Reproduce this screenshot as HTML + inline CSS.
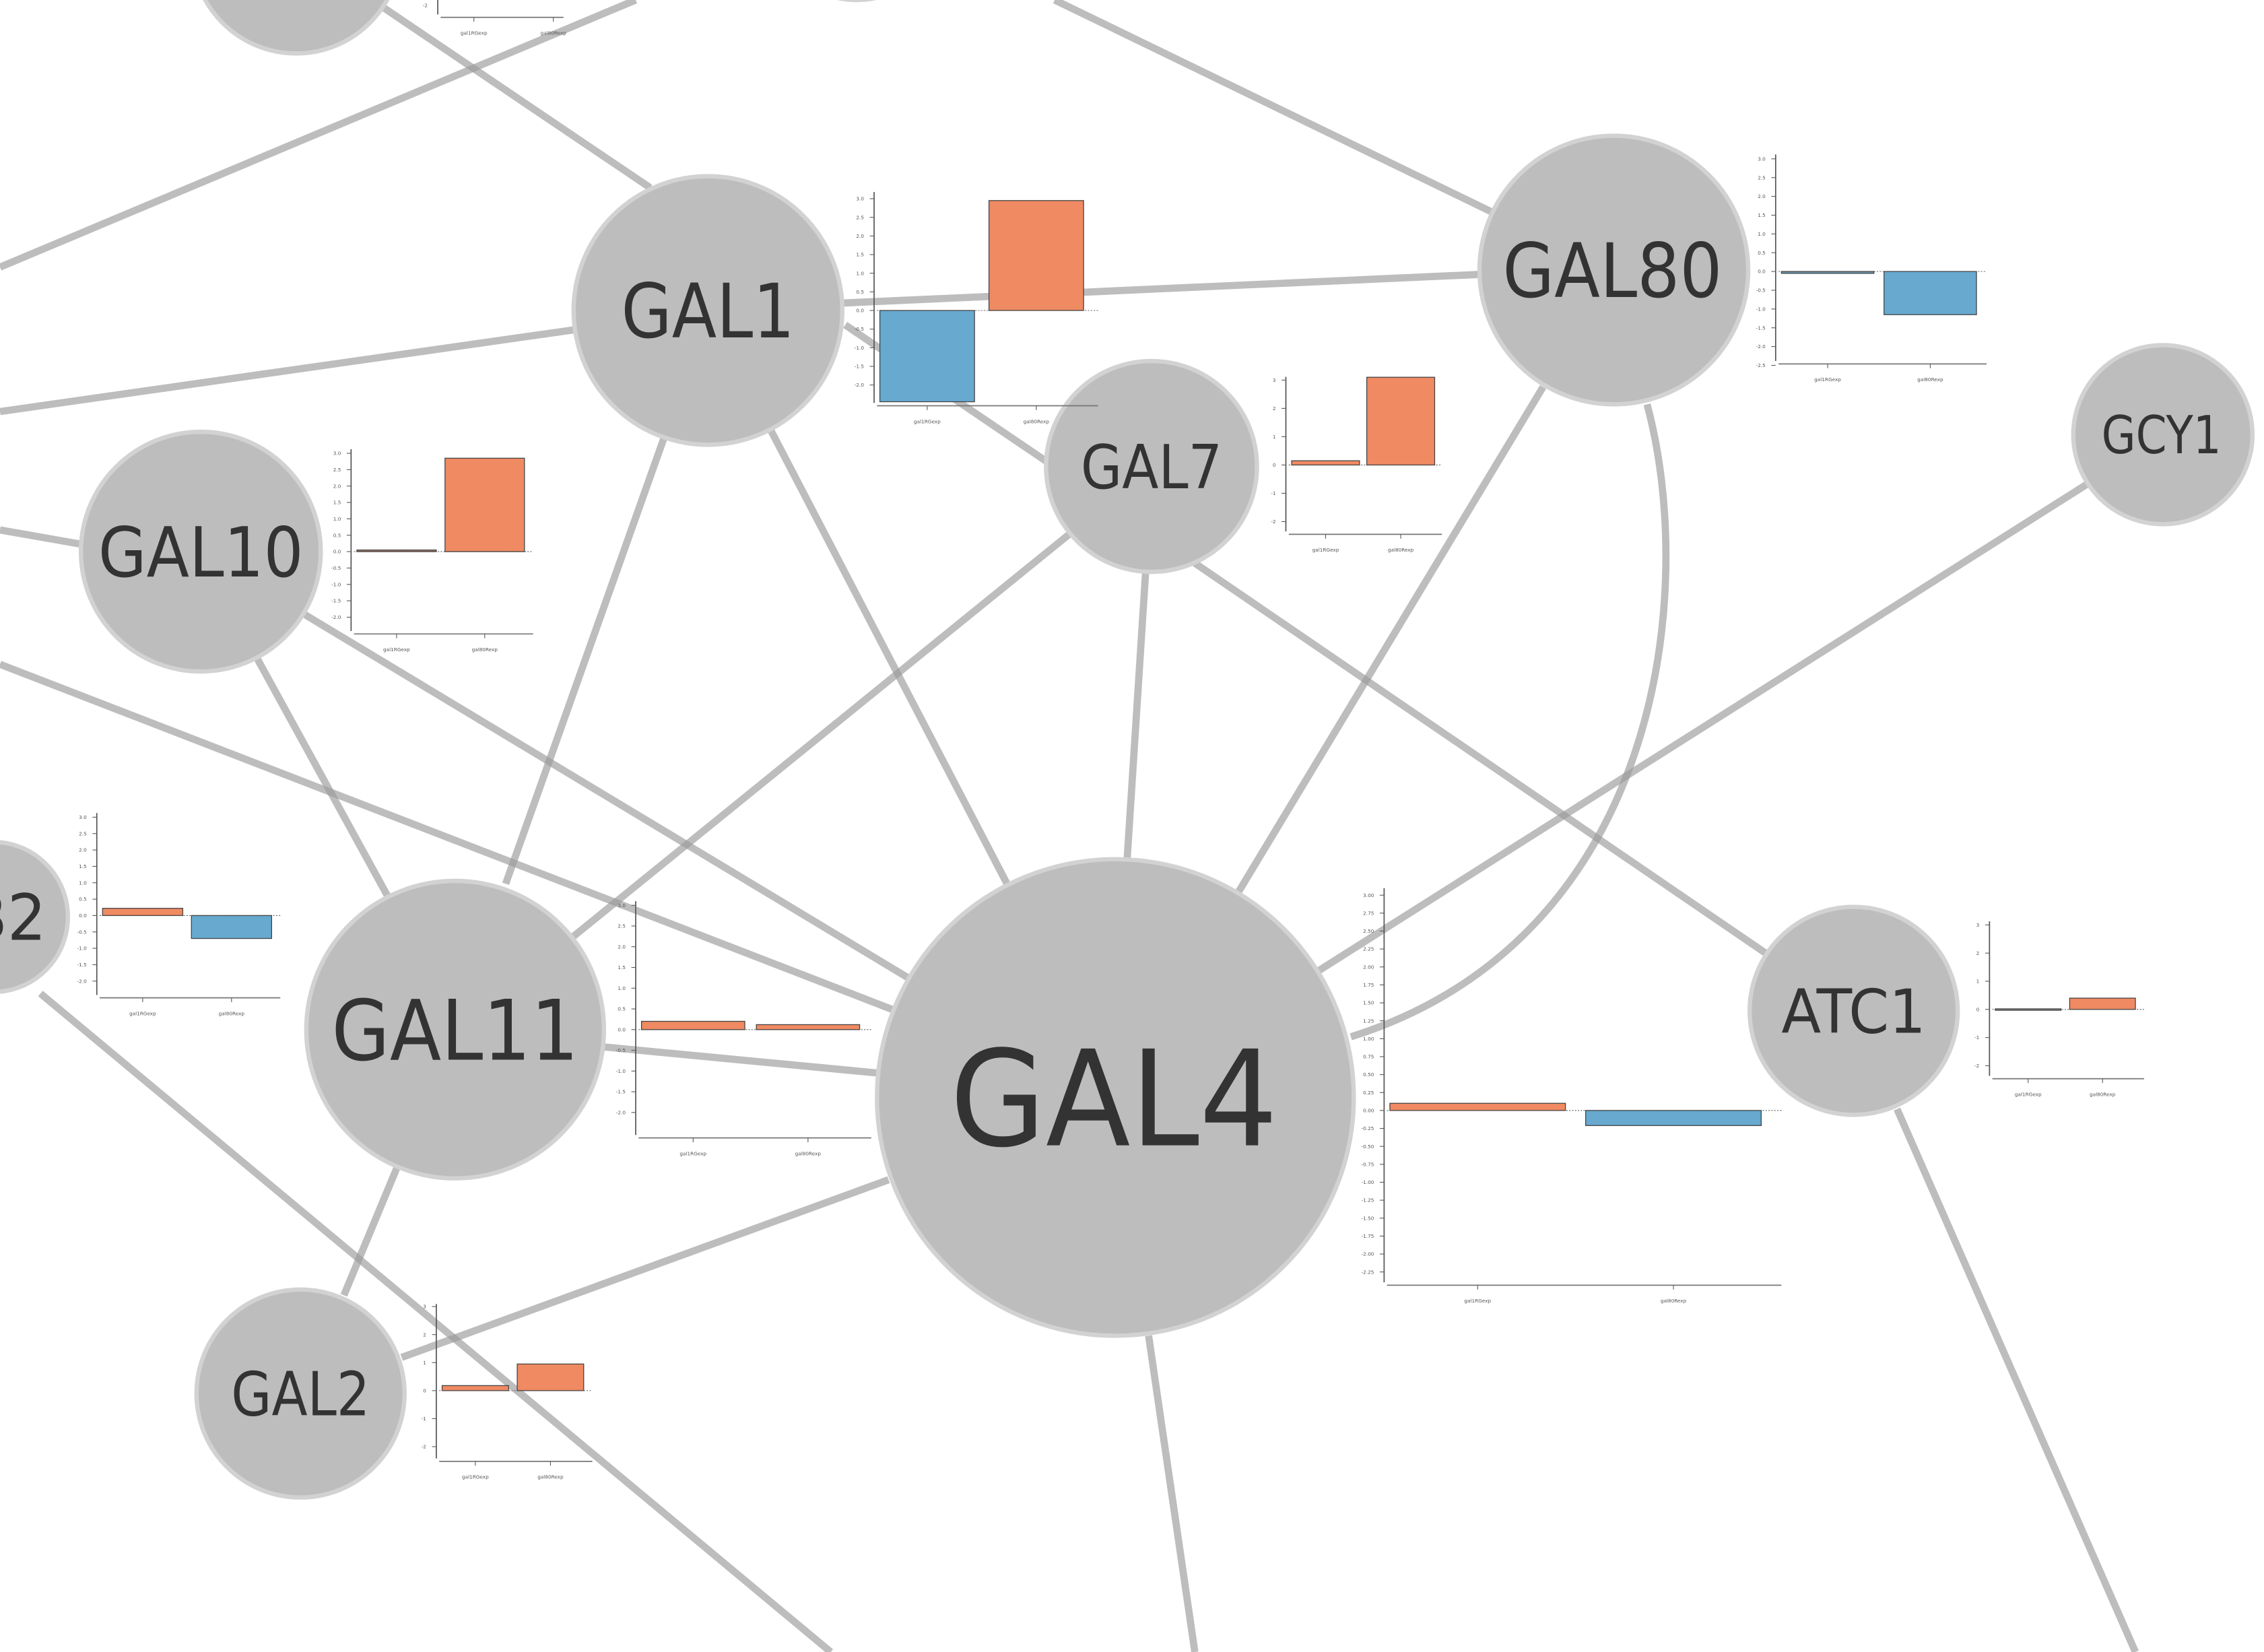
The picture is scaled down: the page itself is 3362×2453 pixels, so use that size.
<!DOCTYPE html>
<html><head><meta charset="utf-8"><style>
html,body{margin:0;padding:0;background:#fff;}
svg{display:block;}
text{font-family:"DejaVu Sans","Liberation Sans",sans-serif;}
</style></head><body>
<svg id="net" width="3362" height="2453" viewBox="0 0 1567 1144" preserveAspectRatio="none" xmlns="http://www.w3.org/2000/svg">
<g id="edges"></g>
<g id="nodes"></g>
<g id="charts"></g>
</svg>
<script>
const NS="http://www.w3.org/2000/svg";
function mk(tag,attrs,parent){const e=document.createElementNS(NS,tag);for(const k in attrs)e.setAttribute(k,attrs[k]);parent.appendChild(e);return e;}
const edgesG=document.getElementById('edges'),nodesG=document.getElementById('nodes'),chartsG=document.getElementById('charts');

// Edges
const edgeLines=[
 [265,5,450,130],[0,185,440,0],[730,0,1035,148],[580,210,1025,190],[0,285,400,228],
 [585,225,725,320],[533,297,697,612],[460,302,350,612],[0,367,57,377],[210,425,630,678],
 [178,456,268,620],[0,460,620,700],[740,370,395,650],[793,395,780,597],[827,390,1222,660],
 [1068,268,857,618],[1445,335,913,672],[418,725,607,743],[275,808,238,897],[278,940,615,817],
 [28,688,575,1144],[795,925,827,1144],[1313,768,1478,1144]
];
edgeLines.forEach(l=>{
 const e=mk('line',{x1:l[0],y1:l[1],x2:l[2],y2:l[3],stroke:'#999','stroke-opacity':0.65,'stroke-width':5},edgesG);
 
 
});
const curve=mk('path',{d:'M1140,280 C1175,410 1150,650 935,718',fill:'none',stroke:'#999','stroke-opacity':0.65,'stroke-width':5},edgesG);



// Nodes: label, cx, cy, r, font size, text width, text center x
const nodes=[
 ['',205,-35,72,0,0,0],['',593,-62,62,0,0,0],
 ['GAL1',490,215,93,52,120,490],['GAL80',1117,187,93,52,152,1116],['GAL7',797,323,73,42,98,797],['GCY1',1497,301,62,36,83,1496],
 ['GAL10',139,382,83,48,142,139],['B2',-5,635,52,44,56,4],['GAL11',315,713,103,58,171,315],['GAL4',772,760,165,92,227,771],
 ['ATC1',1283,700,72,42,100,1283],['GAL2',208,965,72,42,96,208]
];
nodes.forEach(n=>{
 const g=mk('g',{},nodesG);
 
 
 mk('circle',{cx:n[1],cy:n[2],r:n[3],fill:'#bdbdbd',stroke:'#d2d2d2','stroke-width':3},g);
 if(n[0]){const t=mk('text',{x:n[6],y:n[2]+n[4]*0.36,'text-anchor':'middle','font-size':n[4],fill:'#333',textLength:n[5],lengthAdjust:'spacingAndGlyphs'},g);t.textContent=n[0];}
});

// Chart data
const categories=['gal1RGexp','gal80Rexp'];
const gal1Values=[-2.45,2.95];
const gal80Values=[-0.05,-1.15];
const gal7Values=[0.15,3.1];
const gal10Values=[0.05,2.85];
const b2Values=[0.22,-0.7];
const gal11Values=[0.2,0.12];
const gal4Values=[0.1,-0.21];
const atc1Values=[0.02,0.4];
const gal2Values=[0.18,0.95];
const ticksHalf=[3.0,2.5,2.0,1.5,1.0,0.5,0.0,-0.5,-1.0,-1.5,-2.0];
const ticksHalfLong=[3.0,2.5,2.0,1.5,1.0,0.5,0.0,-0.5,-1.0,-1.5,-2.0,-2.5];
const ticksQuarter=[3.0,2.75,2.5,2.25,2.0,1.75,1.5,1.25,1.0,0.75,0.5,0.25,0.0,-0.25,-0.5,-0.75,-1.0,-1.25,-1.5,-1.75,-2.0,-2.25];
const ticksInt=[3,2,1,0,-1,-2];

const ORANGE='#ef8a62',BLUE='#67a9cf',GRAY='#8a8a8a';
function chart(name,vals,ticks,L){
 const g=mk('g',{},chartsG);
 
 
 const y=v=>L.zero-v*L.ppu;
 mk('line',{x1:L.ax,y1:L.top,x2:L.ax,y2:L.bot,stroke:'#555','stroke-width':0.8},g);
 mk('line',{x1:L.ax+2,y1:L.bot+2,x2:L.xend,y2:L.bot+2,stroke:'#777','stroke-width':0.8},g);
 const dec=ticks.some(t=>Math.abs(t*4)%2===1)?2:(ticks.some(t=>t%1!==0)?1:0);
 ticks.forEach(t=>{
  mk('line',{x1:L.ax-3,y1:y(t),x2:L.ax,y2:y(t),stroke:'#555','stroke-width':0.5},g);
  const tx=mk('text',{x:L.ax-7,y:y(t)+1.2,'text-anchor':'end','font-size':3.4,fill:'#555'},g);
  tx.textContent=t.toFixed(dec);
 });
 mk('line',{x1:L.ax+2,y1:L.zero,x2:L.xend,y2:L.zero,stroke:'#666','stroke-width':0.5,'stroke-dasharray':'1,1'},g);
 const n=vals.length, span=(L.xend-L.ax-4)/n;
 vals.forEach((v,i)=>{
  const x0=L.ax+4+i*span, w=span-L.gap;
  const col=L.colors?L.colors[i]:(v>=0?ORANGE:BLUE);
  const r=mk('rect',{x:x0,y:Math.min(y(v),L.zero),width:w,height:Math.max(Math.abs(v)*L.ppu,1),fill:col,stroke:'#444','stroke-width':0.6},g);
  
  
  mk('line',{x1:x0+w/2,y1:L.bot+2,x2:x0+w/2,y2:L.bot+5,stroke:'#555','stroke-width':0.5},g);
  const lt=mk('text',{x:x0+w/2,y:L.bot+14,'text-anchor':'middle','font-size':3.4,fill:'#555'},g);
  lt.textContent=categories[i];
 });
}
chart('chart-gal1',gal1Values,ticksHalf,{ax:605,top:133,bot:279,zero:215,ppu:25.8,xend:760,gap:10});
chart('chart-gal80',gal80Values,ticksHalfLong,{ax:1229,top:107,bot:250,zero:188,ppu:26,xend:1375,gap:7,colors:['#6a9cbc',BLUE]});
chart('chart-gal7',gal7Values,ticksInt,{ax:890,top:261,bot:368,zero:322,ppu:19.6,xend:998,gap:5});
chart('chart-gal10',gal10Values,ticksHalf,{ax:243,top:311,bot:437,zero:382,ppu:22.7,xend:369,gap:6,colors:['#b07a6a',ORANGE]});
chart('chart-b2',b2Values,ticksHalf,{ax:67,top:563,bot:689,zero:634,ppu:22.7,xend:194,gap:6});
chart('chart-gal11',gal11Values,ticksHalf,{ax:440,top:624,bot:786,zero:713,ppu:28.7,xend:603,gap:8});
chart('chart-gal4',gal4Values,ticksQuarter,{ax:958,top:615,bot:888,zero:769,ppu:49.7,xend:1233,gap:14});
chart('chart-atc1',atc1Values,ticksInt,{ax:1377,top:638,bot:745,zero:699,ppu:19.5,xend:1484,gap:6,colors:[GRAY,ORANGE]});
chart('chart-gal2',gal2Values,ticksInt,{ax:302,top:903,bot:1010,zero:963,ppu:19.4,xend:410,gap:6});

// partial chart at top
const pg=mk('g',{},chartsG);


mk('line',{x1:303,y1:0,x2:303,y2:10,stroke:'#555','stroke-width':0.8},pg);
mk('line',{x1:305,y1:12,x2:390,y2:12,stroke:'#777','stroke-width':0.8},pg);
[[328,categories[0]],[383,categories[1]]].forEach(p=>{
 mk('line',{x1:p[0],y1:12,x2:p[0],y2:15,stroke:'#555','stroke-width':0.5},pg);
 const t=mk('text',{x:p[0],y:24,'text-anchor':'middle','font-size':3.4,fill:'#555'},pg);t.textContent=p[1];
});
const pt=mk('text',{x:296,y:5,'text-anchor':'end','font-size':3.4,fill:'#555'},pg);pt.textContent='-2';
</script>
</body></html>
